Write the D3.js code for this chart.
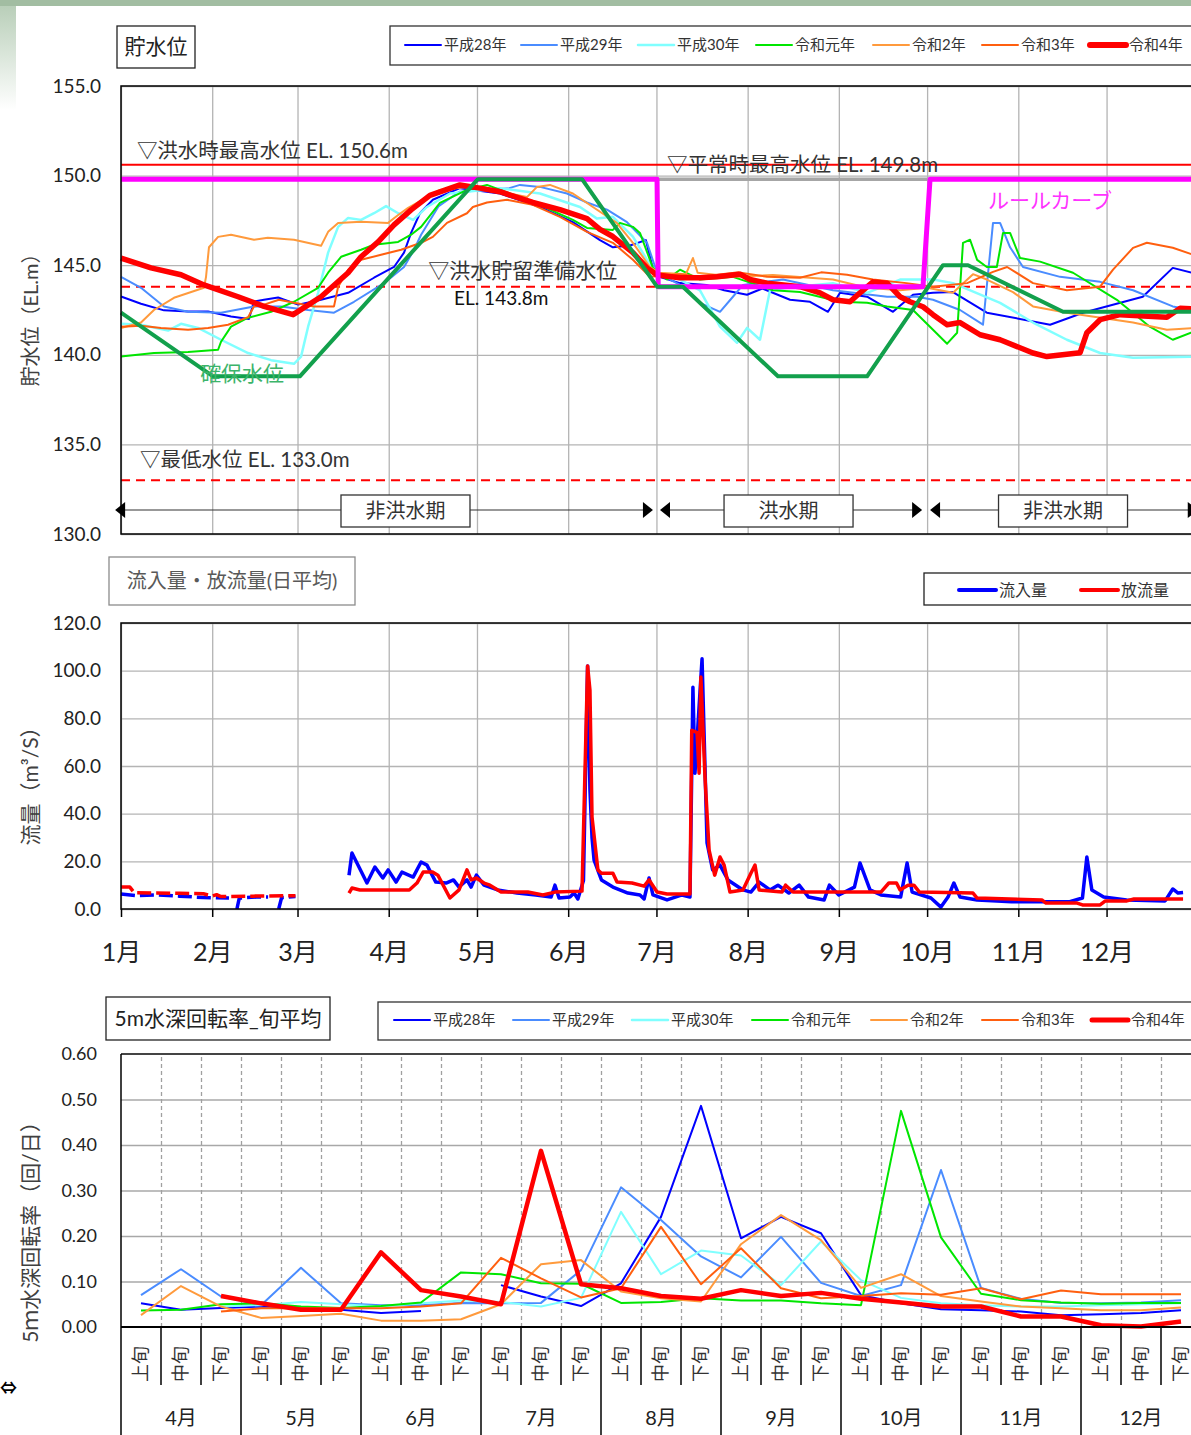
<!DOCTYPE html>
<html>
<head>
<meta charset="utf-8">
<script src="https://cdn.jsdelivr.net/npm/d3@7"></script>
<style>
    body { margin: 0; background: #fff; }
    svg { display: block; font-family: Lato, "Noto Sans CJK JP", sans-serif; }
</style>
</head>
<body>
<svg id="chart" width="1191" height="1435"></svg>
<script>
// ---------- data ----------
var monthStarts = [0, 31, 60, 91, 121, 152, 182, 213, 244, 274, 305, 335];
var monthLabels = ['1月', '2月', '3月', '4月', '5月', '6月', '7月', '8月', '9月', '10月', '11月', '12月'];
var yearNames = ['平成28年', '平成29年', '平成30年', '令和元年', '令和2年', '令和3年', '令和4年'];

// 貯水位 [day of year, EL.m]
var levelH28 = [[0,143.25],[6.8,142.85],[14.6,142.48],[22.8,142.42],[29.6,142.42],[37.4,142.14],[43.5,142.0],[45.2,142.98],[48.6,143.07],[53.4,143.2],[60.2,142.8],[68,143.07],[77.2,143.46],[86,144.3],[92.8,144.9],[96.2,145.7],[98.6,146.8],[101.6,147.9],[106,148.65],[115.2,149.3],[128.8,149.0],[142.4,148.25],[153.6,147.4],[162.8,146.4],[167.2,146.0],[173,146.1],[178.4,146.4],[180.5,145.0],[183,144.35],[190,144.0],[199,143.9],[205,143.6],[212.8,143.35],[218,143.7],[227.4,143.07],[234.2,142.96],[240.3,142.4],[244.4,143.46],[253.6,143.24],[262.4,142.4],[269.2,143.35],[276,143.46],[282.8,143.5],[294.3,142.35],[315.8,141.68],[327,142.35],[347.3,143.24],[357.5,144.85],[366,144.5]];
var levelH29 = [[0,144.35],[6.8,143.74],[14.6,142.7],[22.8,142.4],[34,142.35],[45.2,142.7],[54.4,142.7],[63.6,142.5],[72.4,142.35],[79.2,142.96],[89.4,144.0],[96.2,144.9],[99.6,145.86],[102,146.7],[108,148.3],[115,149.1],[125,149.2],[132,149.3],[135.6,149.48],[142.4,149.37],[151.6,149.0],[158.4,148.5],[165.2,148.1],[172,147.4],[178.8,146.25],[182.2,144.58],[190,143.9],[196.8,142.9],[203.6,142.4],[208,143.24],[211.4,143.9],[225,144.2],[242,143.6],[260.4,143.24],[270.6,143.24],[276,143.07],[285.2,142.5],[293,141.68],[296.4,147.36],[298.8,147.36],[302.2,146.0],[306.6,144.9],[319.2,144.35],[332.8,144.07],[344,143.6],[357.5,142.7],[366,142.45]];
var levelH30 = [[0,141.73],[6.8,141.68],[16,141.35],[20.4,141.73],[26.2,141.5],[34,140.84],[43.2,140.1],[51,139.7],[58.8,139.5],[61.2,139.9],[63.6,141.57],[67,143.46],[70.4,145.7],[73.8,147.14],[77.2,147.64],[81.6,147.53],[86,147.9],[90.1,148.3],[94.2,147.9],[99.3,147.53],[104,148.25],[111.8,149.0],[128.8,149.3],[142.4,149.0],[156,148.25],[161.8,147.6],[167.2,147.7],[174,146.6],[178.8,145.3],[182.2,144.58],[190,144.2],[196.8,143.6],[203.6,141.57],[209.4,140.67],[212.8,141.5],[217.2,140.84],[220.6,143.6],[226.4,143.74],[242,144.0],[253.6,143.46],[264.8,144.2],[276,144.2],[282.8,144.0],[298.8,142.9],[310,141.8],[321.5,140.84],[332.8,140.1],[344,139.84],[366,139.9]];
var levelR1 = [[0,139.9],[11.2,140.1],[22.8,140.16],[33,140.28],[34,140.73],[37.4,141.57],[43.2,142.07],[51,142.4],[58.8,142.96],[67,143.74],[70.4,144.58],[74.8,145.47],[81.6,145.86],[86,146.14],[94.2,146.3],[98.6,146.7],[102,147.14],[108.4,148.48],[117.6,149.2],[124.4,149.48],[140,148.53],[153.6,147.53],[158.4,147.08],[167.2,146.97],[169.6,147.36],[174,147.14],[176.4,146.8],[180.8,144.85],[185.6,144.2],[190,144.75],[196.8,144.2],[208,144.35],[221.6,143.6],[230.8,143.5],[244.4,142.96],[253.6,142.9],[260.4,142.7],[269.2,142.5],[276,141.4],[280.8,140.62],[284.2,141.23],[286.2,146.25],[288.6,146.42],[291,145.3],[294.3,144.9],[297.7,144.9],[299.8,146.8],[302.2,146.8],[305.6,145.4],[312.4,145.2],[323.6,144.58],[338.5,143.07],[349.7,141.57],[357.5,140.84],[363.7,141.23],[366,141.3]];
var levelR2 = [[0,141.5],[6.8,141.8],[11.2,142.5],[18,143.18],[28.2,143.74],[28.9,144.35],[29.9,146.0],[33,146.58],[37.4,146.7],[45.2,146.42],[49.9,146.53],[58.8,146.42],[68,146.08],[70.4,146.86],[73.8,147.36],[81.6,147.42],[90.8,147.36],[94.2,147.8],[97.6,148.2],[108.4,149.2],[117.6,149.37],[128.8,149.1],[138,148.8],[141.4,149.37],[145.8,149.48],[153.6,149.0],[160.4,148.25],[168.5,147.36],[174,146.25],[179.8,144.9],[183,144.58],[192,144.5],[194.4,145.4],[196,144.58],[208,144.35],[221.6,144.45],[242,144.2],[253.6,143.74],[264.8,143.6],[274,143.74],[282.8,143.46],[289.6,144.5],[294.3,144.2],[303.2,143.5],[310,142.7],[321.5,142.35],[344,141.8],[355.5,141.4],[366,141.5]];
var levelR3 = [[0,141.57],[6.8,141.62],[13.6,141.5],[22.8,141.4],[29.6,141.5],[36.4,141.68],[43.2,142.1],[45.2,142.7],[48.6,142.8],[53.7,143.07],[58.8,142.9],[65.6,142.7],[72.4,142.7],[73.8,143.8],[77.2,144.75],[81.6,145.3],[88.4,145.58],[95.2,145.86],[102,146.25],[106,146.58],[110.8,147.36],[117.6,147.9],[119.6,148.25],[124.4,148.5],[131.2,148.65],[140,148.37],[149.2,147.7],[158.4,146.86],[167.2,146.25],[174,145.3],[179.8,144.35],[190,144.5],[196.8,144.35],[210,144.6],[219.6,144.35],[230.8,144.3],[238,144.6],[246.8,144.47],[255.6,144.2],[267,144.0],[276,143.8],[287.6,144.0],[296.4,144.63],[301.2,144.9],[310,144.0],[321.5,143.6],[332.8,143.8],[337.2,144.75],[344,145.97],[348.7,146.25],[357.5,145.97],[366,145.5]];
var levelR4 = [[0,145.4],[10.2,144.85],[20.4,144.47],[28.2,143.9],[39.8,143.24],[48.6,142.7],[58.5,142.24],[68,143.24],[77.2,144.58],[81.6,145.47],[87.4,146.3],[92.8,147.25],[98.6,148.09],[105,148.9],[115.2,149.48],[122,149.3],[128.8,149.1],[140,148.5],[149.2,148.1],[158.4,147.6],[162.8,147.0],[167.2,146.6],[174,145.7],[178.8,144.85],[182.2,144.45],[190,144.3],[196.8,144.3],[202.6,144.35],[210.4,144.5],[213.8,144.2],[219.6,144.0],[230.8,143.8],[237.6,143.46],[242,143.07],[247.8,142.96],[251.2,143.46],[255.6,144.07],[260.4,144.0],[264.8,143.24],[268.2,142.96],[272.6,142.68],[276,142.24],[280.8,141.68],[285.2,141.8],[292,141.12],[298.8,140.84],[310,140.1],[314.7,139.9],[326,140.12],[328.3,141.23],[332.8,141.96],[339.6,142.24],[355.5,142.1],[360,142.6],[366,142.55]];

var ruleCurve = [[0,149.8],[182.2,149.8],[182.6,143.8],[272.6,143.8],[275,149.8],[366,149.8]];
var normalMax = [[182.2,149.8],[274,149.8]];
var secureLevel = [[0,142.35],[31.3,138.8],[60.8,138.8],[121.3,149.8],[156.7,149.8],[182.2,143.8],[191,143.8],[223.3,138.8],[253.6,138.8],[279.4,145.0],[287.9,145.0],[320.2,142.4],[366,142.4]];
var floodMaxLevel = 150.6, floodReadyLevel = 143.8, minLevel = 133.0;
var levelTicks = [130, 135, 140, 145, 150, 155];
var periods = [
    {from: -2, to: 180.8, label: '非洪水期', at: 96.7},
    {from: 183.2, to: 272.3, label: '洪水期', at: 226.9},
    {from: 275, to: 366, label: '非洪水期', at: 320.2}
];

// 流入量・放流量 [day, m3/s]
var inflowDashed = [[0,6.3],[5,5.6],[12,5.9],[20,5.4],[28,4.8],[36.7,4.6],[37.5,null],[39.4,0],[40.2,4.6],[46,5.0],[50,5.0],[51,null],[53.6,0],[54.6,4.8],[59.3,5.2]];
var outflowDashed = [[0,9.2],[3,9.2],[4.5,6.8],[20,6.6],[28,6.4],[31,5.4],[32.5,6.0],[34,5.2],[45,5.4],[59.3,5.6]];
var inflow = [[77.5,14.2],[78.5,23.5],[83.6,10.9],[86.3,17.6],[89,13],[90.8,16.4],[93.5,11.3],[95.5,15.5],[99.3,13.4],[102,19.7],[104,18.4],[107,11.3],[110.5,10.9],[113,12.2],[114.9,9.2],[117.6,12.2],[119,9.2],[120.8,14.2],[123.4,10],[128,8],[134.6,6.7],[141,5.9],[146.2,5],[147.5,10],[148.9,4.6],[152.6,5],[154,6.7],[155.3,4.2],[157.2,12],[158.6,102],[159.4,50],[160.1,30],[160.8,20.5],[163.3,12.2],[167.2,9.2],[172.3,6.7],[176.4,5.9],[177.8,4.2],[179.5,13],[180.8,5.9],[185.6,3.8],[190.7,5.9],[193.4,5],[194.4,93],[195.1,57],[197.5,105],[199.2,27.7],[201.1,16.4],[203.6,18.4],[206.3,12.2],[211.4,8],[214.1,7.1],[216.9,11.3],[220.6,8],[223.3,10],[227,6.7],[230.5,10],[233.7,5],[239,3.8],[240.8,10],[244,5.9],[249.3,9.2],[251.2,19.3],[254.6,8],[258.3,5.9],[265,5],[267.2,19.3],[268.9,7.1],[275.3,4.6],[278.7,0.8],[281.1,5],[283.1,10.9],[285.2,5],[291,3.8],[302.7,3],[322.2,3],[326.8,4.6],[328.3,21.8],[330,8],[334,5],[341.8,3.8],[354.9,3.4],[357.5,8.4],[359.3,6.7],[361,6.9]];
var outflow = [[77.5,6.7],[78.5,8.8],[81.2,8],[98,8],[100.6,10.9],[102.7,15.5],[105.9,15.5],[107.7,14.2],[111.8,4.6],[114.9,8],[117.6,16.4],[119,12.2],[120.8,13],[123.4,10.9],[125.4,10],[129.2,7.1],[138.3,7.1],[143.4,5.9],[147.5,7.1],[156.7,7.5],[158.6,102],[159.4,91.8],[160.1,38.6],[162.1,16.4],[163.3,15],[167.2,15],[168.6,11.3],[173.7,10.9],[177.8,9.6],[179.5,12.2],[182.2,7.1],[185.6,6.3],[193.4,6.3],[194,75],[195.8,74],[196.5,57],[197.1,97.3],[198.5,55.3],[199.9,24.7],[201.8,14.2],[203.6,21.8],[205,18.4],[207,7.1],[211.4,8],[214.1,15],[215.5,18.4],[216.9,8],[224.7,7.1],[225.9,10],[228.4,7.1],[258.3,7.1],[261,10.9],[263.6,10.9],[264.8,8],[267.5,10],[269.5,10],[271.4,7.1],[289.6,6.7],[291,4.6],[313,3.8],[314.4,2.5],[325,2.5],[326.8,1.7],[332.8,1.7],[334.6,3.4],[341.9,3.4],[344.3,4.2],[361,4.2]];
var flowTicks = [0, 20, 40, 60, 80, 100, 120];

// 5m水深回転率 旬平均 (4月上旬 .. 12月下旬)
var dekadLabels = ['上旬', '中旬', '下旬'];
var rateMonths = ['4月', '5月', '6月', '7月', '8月', '9月', '10月', '11月', '12月'];
var rateH28 = [0.052,0.038,0.042, 0.045,0.042,0.038, 0.031,0.035,null, 0.092,0.067,0.046, 0.096,0.242,0.486, 0.195,0.242,0.206, 0.070,0.052,0.039, 0.037,0.034,0.026, 0.028,0.031,0.037];
var rateH29 = [0.070,0.127,0.067, 0.048,0.130,0.052, 0.048,0.048,0.053, 0.052,0.053,0.125, 0.307,0.235,0.155, 0.109,0.198,0.097, 0.068,0.092,0.345, 0.086,0.062,0.053, 0.052,0.054,0.059];
var rateH30 = [null,null,0.045, 0.048,0.055,0.050, 0.045,0.052,0.058, 0.055,0.045,0.064, 0.253,0.116,0.168, 0.157,0.092,0.188, 0.103,0.064,0.052, 0.048,0.045,0.045, 0.048,0.050,0.052];
var rateR1 = [0.036,0.038,0.050, 0.052,0.045,0.042, 0.046,0.054,0.120, 0.116,0.096,0.095, 0.053,0.055,0.063, 0.058,0.058,0.052, 0.048,0.475,0.197, 0.073,0.059,0.054, 0.051,0.053,0.053];
var rateR2 = [0.026,0.090,0.045, 0.020,0.024,0.029, 0.014,0.014,0.017, 0.050,0.138,0.147, 0.078,0.063,0.056, 0.182,0.246,0.191, 0.086,0.116,0.068, 0.056,0.045,0.041, 0.037,0.037,0.043];
var rateR3 = [null,null,0.034, 0.041,0.041,0.041, 0.041,0.045,0.052, 0.152,0.107,0.065, 0.085,0.220,0.094, 0.173,0.085,0.063, 0.068,0.074,0.071, 0.085,0.061,0.080, 0.072,0.072,0.072];
var rateR4 = [null,null,0.068, 0.052,0.038,0.038, 0.164,0.081,0.067, 0.050,0.387,0.094, 0.085,0.068,0.062, 0.081,0.068,0.075, 0.062,0.054,0.045, 0.045,0.023,0.023, 0.004,0.001,0.012];
var rateTicks = [0, 0.1, 0.2, 0.3, 0.4, 0.5, 0.6];

// ---------- styles ----------
var yearColors = ['#0000ff', '#4a8cff', '#80ffff', '#00e600', '#ff9a3c', '#ff5f0f', '#ff0000'];
var gridColor = '#b4b4b4';
var textColor = '#333';
var plotLeft = 121, plotRight = 1205;

var svg = d3.select('#chart');

var xDay = d3.scaleLinear().domain([0, 366]).range([plotLeft, plotLeft + 366 * 2.942]);

function addLine(g, data, x, y, color, width, dash) {
    var line = d3.line()
        .defined(function (d) { return d[1] != null; })
        .x(function (d) { return x(d[0]); })
        .y(function (d) { return y(d[1]); });
    return g.append('path')
        .datum(data)
        .attr('d', line)
        .attr('fill', 'none')
        .attr('stroke', color)
        .attr('stroke-width', width)
        .attr('stroke-linejoin', 'round')
        .attr('stroke-dasharray', dash || null);
}

function cleanGrid(sel, color, dash) {
    sel.select('.domain').remove();
    sel.selectAll('line').attr('stroke', color).attr('stroke-width', 1.3)
        .attr('stroke-dasharray', dash || null);
}

function addText(g, x, y, txt, size, color, anchor) {
    return g.append('text')
        .attr('x', x).attr('y', y)
        .attr('font-size', size)
        .attr('fill', color || textColor)
        .attr('text-anchor', anchor || 'start')
        .text(txt);
}

function yTitle(txt, cy, size) {
    svg.append('text')
        .attr('transform', 'translate(31,' + cy + ') rotate(-90)')
        .attr('text-anchor', 'middle')
        .attr('dy', '0.35em')
        .attr('font-size', size)
        .attr('fill', '#404040')
        .text(txt);
}

function legend(g, xs, y, names, colors, widths, len, size) {
    names.forEach(function (name, i) {
        g.append('line')
            .attr('x1', xs[i]).attr('x2', xs[i] + len)
            .attr('y1', y).attr('y2', y)
            .attr('stroke', colors[i]).attr('stroke-width', widths[i])
            .attr('stroke-linecap', 'round');
        g.append('text')
            .attr('x', xs[i] + len + 3).attr('y', y)
            .attr('dy', '0.35em')
            .attr('font-size', size)
            .attr('fill', textColor)
            .text(name);
    });
}

function titleBox(x, y, w, h, txt, size, stroke, color) {
    svg.append('rect').attr('x', x).attr('y', y).attr('width', w).attr('height', h)
        .attr('fill', '#fff').attr('stroke', stroke).attr('stroke-width', 1.3);
    svg.append('text').attr('x', x + w / 2).attr('y', y + h / 2).attr('dy', '0.35em')
        .attr('text-anchor', 'middle')
        .attr('font-size', size).attr('fill', color).text(txt);
}

// page decoration
var defs = svg.append('defs');
var grad = defs.append('linearGradient').attr('id', 'edge').attr('x1', 0).attr('x2', 0).attr('y1', 0).attr('y2', 1);
grad.append('stop').attr('offset', '0%').attr('stop-color', '#b5ccb5');
grad.append('stop').attr('offset', '100%').attr('stop-color', '#ffffff');
svg.append('rect').attr('x', 0).attr('y', 0).attr('width', 16).attr('height', 110).attr('fill', 'url(#edge)');
svg.append('rect').attr('x', 0).attr('y', 0).attr('width', 1191).attr('height', 6).attr('fill', '#a2bda2');

// =========================================================
// 貯水位
// =========================================================
var yLevel = d3.scaleLinear().domain([130, 155]).range([534, 86]);
var gLevel = svg.append('g');

gLevel.append('g').attr('transform', 'translate(' + plotLeft + ',0)')
    .call(d3.axisLeft(yLevel).tickValues(levelTicks).tickSize(-(plotRight - plotLeft)).tickFormat(''))
    .call(cleanGrid, gridColor);
gLevel.append('g').attr('transform', 'translate(0,534)')
    .call(d3.axisBottom(xDay).tickValues(monthStarts).tickSize(-(534 - 86)).tickFormat(''))
    .call(cleanGrid, gridColor);

// reference levels
addLine(gLevel, [[0, floodMaxLevel], [366, floodMaxLevel]], xDay, yLevel, '#ff0000', 2);
addLine(gLevel, [[0, floodReadyLevel], [366, floodReadyLevel]], xDay, yLevel, '#ff0000', 2, '9,6');
addLine(gLevel, [[0, minLevel], [366, minLevel]], xDay, yLevel, '#ff0000', 2, '9,6');

// yearly levels
[levelH28, levelH29, levelH30, levelR1, levelR2, levelR3].forEach(function (s, i) {
    addLine(gLevel, s, xDay, yLevel, yearColors[i], i === 2 ? 2.5 : 2);
});
addLine(gLevel, levelR4, xDay, yLevel, yearColors[6], 5.5);

addLine(gLevel, normalMax, xDay, yLevel, '#a6a6a6', 3.5);
addLine(gLevel, ruleCurve, xDay, yLevel, '#ff00ff', 5);
addLine(gLevel, secureLevel, xDay, yLevel, '#12a04c', 4);

// frame
gLevel.append('rect').attr('x', plotLeft).attr('y', yLevel(155))
    .attr('width', plotRight - plotLeft).attr('height', yLevel(130) - yLevel(155))
    .attr('fill', 'none').attr('stroke', '#000').attr('stroke-width', 1.5);

gLevel.append('g').attr('transform', 'translate(' + plotLeft + ',0)')
    .call(d3.axisLeft(yLevel).tickValues(levelTicks).tickSize(0).tickPadding(20).tickFormat(d3.format('.1f')))
    .call(function (g) { g.select('.domain').remove(); })
    .attr('font-family', null).attr('font-size', 19)
    .selectAll('text').attr('fill', '#222');

// annotations
addText(gLevel, xDay(5.4), yLevel(floodMaxLevel) - 7, '▽洪水時最高水位 EL. 150.6m', 20.5);
addText(gLevel, xDay(185.6), yLevel(149.8) - 7, '▽平常時最高水位 EL. 149.8m', 20.5);
addText(gLevel, xDay(104.4), yLevel(floodReadyLevel) - 9, '▽洪水貯留準備水位', 21);
addText(gLevel, xDay(113.2), yLevel(floodReadyLevel) + 18, 'EL. 143.8m', 19, '#111');
addText(gLevel, xDay(6.5), yLevel(minLevel) - 13, '▽最低水位 EL. 133.0m', 20.5);
addText(gLevel, xDay(26.9), yLevel(138.8) + 5, '確保水位', 21, '#3cb46a');
addText(gLevel, xDay(294.7), yLevel(149.8) + 29, 'ルールカーブ', 21, '#ff33ff');

// period arrows
var arrowY = 510;
periods.forEach(function (p) {
    var x1 = xDay(p.from), x2 = xDay(p.to);
    gLevel.append('line').attr('x1', x1 + 8).attr('x2', x2 - 8).attr('y1', arrowY).attr('y2', arrowY)
        .attr('stroke', '#333').attr('stroke-width', 1.2);
    gLevel.append('path').attr('d', 'M' + x1 + ',' + arrowY + 'l10,-8v16z').attr('fill', '#000');
    gLevel.append('path').attr('d', 'M' + x2 + ',' + arrowY + 'l-10,-8v16z').attr('fill', '#000');
    var cx = xDay(p.at);
    gLevel.append('rect').attr('x', cx - 64.5).attr('y', arrowY - 15).attr('width', 129).attr('height', 32)
        .attr('fill', '#fff').attr('stroke', '#333').attr('stroke-width', 1.3);
    gLevel.append('text').attr('x', cx).attr('y', arrowY + 1).attr('dy', '0.35em')
        .attr('text-anchor', 'middle').attr('font-size', 20).attr('fill', textColor).text(p.label);
});

titleBox(117, 26, 78, 42, '貯水位', 21, '#222', '#222');
svg.append('rect').attr('x', 390).attr('y', 26).attr('width', 820).attr('height', 39)
    .attr('fill', '#fff').attr('stroke', '#333').attr('stroke-width', 1.3);
legend(svg, [405, 521, 638, 756, 873, 982, 1090], 45, yearNames, yearColors,
    [2, 2, 2.5, 2, 2, 2, 6], 36, 15);
yTitle('貯水位（EL.m）', 315, 20);

// =========================================================
// 流入量・放流量
// =========================================================
var yFlow = d3.scaleLinear().domain([0, 120]).range([909, 623]);
var gFlow = svg.append('g');

gFlow.append('g').attr('transform', 'translate(' + plotLeft + ',0)')
    .call(d3.axisLeft(yFlow).tickValues(flowTicks).tickSize(-(plotRight - plotLeft)).tickFormat(''))
    .call(cleanGrid, gridColor);
gFlow.append('g').attr('transform', 'translate(0,909)')
    .call(d3.axisBottom(xDay).tickValues(monthStarts).tickSize(-(909 - 623)).tickFormat(''))
    .call(cleanGrid, gridColor);

addLine(gFlow, inflowDashed, xDay, yFlow, '#0000ff', 3.5, '14,5');
addLine(gFlow, outflowDashed, xDay, yFlow, '#ff0000', 3.5, '14,5');
addLine(gFlow, inflow, xDay, yFlow, '#0000ff', 3.5);
addLine(gFlow, outflow, xDay, yFlow, '#ff0000', 3.5);

gFlow.append('rect').attr('x', plotLeft).attr('y', yFlow(120))
    .attr('width', plotRight - plotLeft).attr('height', yFlow(0) - yFlow(120))
    .attr('fill', 'none').attr('stroke', '#000').attr('stroke-width', 1.5);

gFlow.append('g').attr('transform', 'translate(0,909)')
    .call(d3.axisBottom(xDay).tickValues(monthStarts).tickSize(8).tickPadding(26)
        .tickFormat(function (d, i) { return monthLabels[i]; }))
    .call(function (g) { g.select('.domain').remove(); })
    .attr('font-family', null).attr('font-size', 25)
    .call(function (g) {
        g.selectAll('line').attr('stroke', '#000').attr('stroke-width', 1.5);
        g.selectAll('text').attr('fill', '#222');
    });

gFlow.append('g').attr('transform', 'translate(' + plotLeft + ',0)')
    .call(d3.axisLeft(yFlow).tickValues(flowTicks).tickSize(0).tickPadding(20).tickFormat(d3.format('.1f')))
    .call(function (g) { g.select('.domain').remove(); })
    .attr('font-family', null).attr('font-size', 19)
    .selectAll('text').attr('fill', '#222');

titleBox(109, 557, 246, 48, '流入量・放流量(日平均)', 20, '#8c8c8c', '#595959');
svg.append('rect').attr('x', 924).attr('y', 573).attr('width', 290).attr('height', 32)
    .attr('fill', '#fff').attr('stroke', '#222').attr('stroke-width', 1.3);
legend(svg, [959, 1081], 590, ['流入量', '放流量'], ['#0000ff', '#ff0000'], [4, 4], 37, 16);
yTitle('流量（m³/S）', 781, 21);

// =========================================================
// 5m水深回転率_旬平均
// =========================================================
var nCat = rateMonths.length * 3;
var xCat = d3.scaleBand().domain(d3.range(nCat)).range([plotLeft, plotLeft + nCat * 40]);
var yRate = d3.scaleLinear().domain([0, 0.6]).range([1327, 1054]);
var gRate = svg.append('g');
var catX = function (i) { return xCat(i) + xCat.bandwidth() / 2; };

gRate.append('g').attr('transform', 'translate(' + plotLeft + ',0)')
    .call(d3.axisLeft(yRate).tickValues(rateTicks.slice(1, 6)).tickSize(-(plotRight - plotLeft)).tickFormat(''))
    .call(cleanGrid, '#a8a8a8');
gRate.append('g').attr('transform', 'translate(0,1327)')
    .call(d3.axisBottom(d3.scaleLinear().domain([0, nCat]).range(xCat.range()))
        .tickValues(d3.range(1, nCat)).tickSize(-(1327 - 1054)).tickFormat(''))
    .call(cleanGrid, '#a0a0a0', '4,3');

var rateSeries = [rateH28, rateH29, rateH30, rateR1, rateR2, rateR3, rateR4];
rateSeries.forEach(function (s, i) {
    var pts = s.map(function (v, k) { return [k, v]; });
    addLine(gRate, pts, catX, yRate, yearColors[i], i === 6 ? 4.5 : 2);
});

// frame and category axis
gRate.append('line').attr('x1', plotLeft).attr('x2', plotRight).attr('y1', yRate(0.6)).attr('y2', yRate(0.6))
    .attr('stroke', '#444').attr('stroke-width', 2);
gRate.append('line').attr('x1', plotLeft).attr('x2', plotRight).attr('y1', yRate(0)).attr('y2', yRate(0))
    .attr('stroke', '#000').attr('stroke-width', 2);
gRate.append('line').attr('x1', plotLeft).attr('x2', plotLeft).attr('y1', yRate(0.6)).attr('y2', 1435)
    .attr('stroke', '#000').attr('stroke-width', 1.5);
d3.range(1, nCat + 1).forEach(function (i) {
    var x = i < nCat ? xCat(i) : xCat.range()[1];
    gRate.append('line').attr('x1', x).attr('x2', x)
        .attr('y1', yRate(0)).attr('y2', i % 3 === 0 ? 1435 : 1385)
        .attr('stroke', '#000').attr('stroke-width', 1.5);
});
d3.range(nCat).forEach(function (i) {
    gRate.append('text')
        .attr('transform', 'translate(' + catX(i) + ',1364) rotate(-90)')
        .attr('text-anchor', 'middle').attr('dy', '0.35em')
        .attr('font-size', 18).attr('fill', '#333')
        .text(dekadLabels[i % 3]);
});
rateMonths.forEach(function (m, j) {
    gRate.append('text')
        .attr('x', (xCat(j * 3) + xCat(j * 3 + 2) + xCat.bandwidth()) / 2).attr('y', 1425)
        .attr('text-anchor', 'middle').attr('font-size', 20).attr('fill', '#222').text(m);
});

gRate.append('g').attr('transform', 'translate(' + plotLeft + ',0)')
    .call(d3.axisLeft(yRate).tickValues(rateTicks).tickSize(0).tickPadding(24).tickFormat(d3.format('.2f')))
    .call(function (g) { g.select('.domain').remove(); })
    .attr('font-family', null).attr('font-size', 18)
    .selectAll('text').attr('fill', '#222');

titleBox(106, 997, 224, 43, '5m水深回転率_旬平均', 21, '#222', '#222');
svg.append('rect').attr('x', 378).attr('y', 1002).attr('width', 830).attr('height', 38)
    .attr('fill', '#fff').attr('stroke', '#333').attr('stroke-width', 1.3);
legend(svg, [394, 513, 632, 752, 871, 982, 1092], 1020, yearNames, yearColors,
    [2, 2, 2.5, 2, 2, 2, 5], 36, 15);
yTitle('5ｍ水深回転率（回/日）', 1227, 21);

svg.append('text').attr('x', 0).attr('y', 1394).attr('font-size', 17).attr('font-weight', 'bold')
    .attr('fill', '#000').text('⇔');
</script>
</body>
</html>
